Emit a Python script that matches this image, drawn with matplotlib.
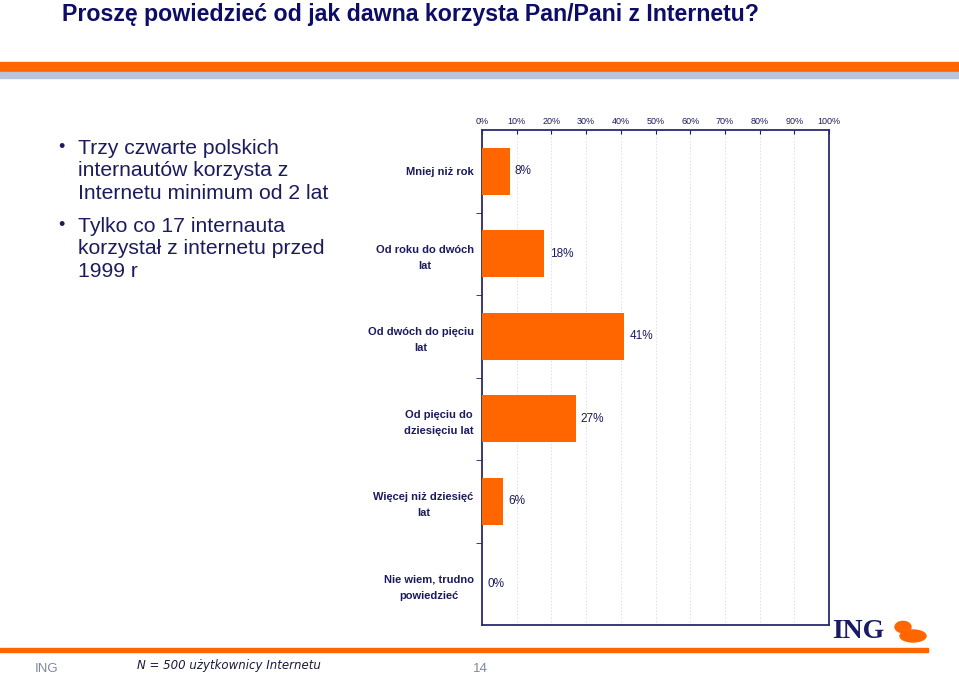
import matplotlib
matplotlib.use("Agg")
import matplotlib.pyplot as plt
from matplotlib.patches import Rectangle, Ellipse, Circle

# dane
categories = ["Mniej niż rok", "Od roku do dwóch\nlat", "Od dwóch do pięciu\nlat",
              "Od pięciu do\ndziesięciu lat", "Więcej niż dziesięć\nlat",
              "Nie wiem, trudno\npowiedzieć"]
values = [8, 18, 41, 27, 6, 0]
xticks = list(range(0, 101, 10))
xtick_labels = [f"{v}%" for v in xticks]

title = "Proszę powiedzieć od jak dawna korzysta Pan/Pani z Internetu?"
bullets = ["Trzy czwarte polskich\ninternautów korzysta z\nInternetu minimum od 2 lat",
           "Tylko co 17 internauta\nkorzystał z internetu przed\n1999 r"]
footnote = "N = 500 użytkownicy Internetu"

W, H = 959, 676
NAVY = "#1b1b5e"
ORANGE = "#ff6600"

plt.rcParams['font.family'] = ['Liberation Sans', 'DejaVu Sans']

fig = plt.figure(figsize=(W / 100, H / 100), dpi=100)


def fx(x):
    return x / W


def fy(y):
    return 1 - y / H


# paski u góry
fig.patches.append(Rectangle((0, fy(72)), 1, 10 / H, transform=fig.transFigure,
                             color=ORANGE, zorder=0))
fig.patches.append(Rectangle((0, fy(78)), 1, 6 / H, transform=fig.transFigure,
                             color="#b8c4dc", zorder=0))
# linia na dole
fig.patches.append(Rectangle((0, fy(652)), fx(928), 4 / H, transform=fig.transFigure,
                             color=ORANGE, zorder=0))

fig.text(fx(62), fy(14), title, fontsize=16.7, fontweight='bold', color="#0d0d66",
         va='center', ha='left')

# punkty po lewej
for b, y0 in zip(bullets, [147, 225]):
    fig.text(fx(58), fy(y0), "•", fontsize=13, color=NAVY, va='center', ha='left')
    fig.text(fx(78), fy(y0 - 8), b, fontsize=15.2, color=NAVY, va='top', ha='left',
             linespacing=1.23)

# wykres
ax = fig.add_axes([fx(482), fy(625), fx(829) - fx(482), (625 - 130) / H])
n = len(categories)
pos = list(range(n))
ax.barh(pos, values, height=0.57, color=ORANGE, zorder=3)
for p, v in zip(pos, values):
    ax.text(v + 1.5, p, f"{v}%", va='center', ha='left', fontsize=8.5,
            color=NAVY, zorder=4)

ax.set_xlim(0, 100)
ax.set_ylim(n - 0.5, -0.5)
ax.set_xticks(xticks, xtick_labels)
ax.xaxis.tick_top()
ax.tick_params(axis='x', labelsize=6.5, labelcolor=NAVY, color=NAVY, direction='in',
               length=3, pad=3)
ax.set_yticks(pos, categories)
ax.set_yticks([i + 0.5 for i in range(n - 1)], minor=True)
ax.tick_params(axis='y', which='major', length=0, pad=6, labelsize=8, labelcolor=NAVY)
ax.tick_params(axis='y', which='minor', length=4, color=NAVY, direction='out')
for lab in ax.get_yticklabels():
    lab.set_fontweight('bold')
    lab.set_multialignment('center')
    lab.set_linespacing(1.75)
ax.grid(axis='x', color="#dddddd", linestyle=(0, (2, 2)), linewidth=0.6, zorder=0)
for s in ax.spines.values():
    s.set_color("#2a2a6e")
    s.set_linewidth(1.3)

# stopka
fig.text(fx(35), fy(669), "ING", fontsize=9.5, color="#7f8a99", va='center', ha='left')
fig.text(fx(137), fy(665), footnote, fontsize=8.5, style='italic', color="#1a1a3e",
         va='center', ha='left', family=['DejaVu Sans'])
fig.text(fx(473), fy(669), "14", fontsize=9.5, color="#7f8a99", va='center', ha='left')

# logo ING
fig.text(fx(832), fy(632), "ING", fontsize=20, fontweight='bold', color="#1a1a66",
         family=['Liberation Serif', 'DejaVu Serif'], va='center', ha='left')
fig.patches.append(Ellipse((fx(913), fy(636)), 26 / W, 12 / H, transform=fig.transFigure,
                           color=ORANGE, zorder=2))
fig.patches.append(Circle((fx(903), fy(627)), 8 / W, transform=fig.transFigure,
                          color=ORANGE, zorder=2))

fig.savefig("out.png", dpi=100)
